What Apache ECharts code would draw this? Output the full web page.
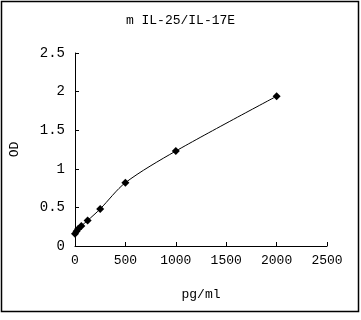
<!DOCTYPE html>
<html><head><meta charset="utf-8">
<script src="https://cdn.jsdelivr.net/npm/echarts@6/dist/echarts.min.js"></script>
<style>html,body{margin:0;padding:0;background:#fff}#c{width:361px;height:320px}</style>
</head><body><div id="c"></div>
<script>
var titleText = "m IL-25/IL-17E";
var xName = "pg/ml";
var yName = "OD";
var conc = [0, 15.6, 31.25, 62.5, 125, 250, 500, 1000, 2000];
var od = [0.16, 0.19, 0.22, 0.26, 0.33, 0.48, 0.82, 1.23, 1.94];
var xTicks = [0, 500, 1000, 1500, 2000, 2500];
var yTicks = [0, 0.5, 1, 1.5, 2, 2.5];

var font = "'Liberation Mono', 'DejaVu Sans Mono', monospace";
var chart = echarts.init(document.getElementById('c'));
var pts = conc.map(function(x, i){ return [x, od[i]]; });
chart.setOption({
  animation: false,
  backgroundColor: '#fff',
  title: { text: titleText, left: 'center', top: 9, textStyle: { fontFamily: font, fontSize: 13, fontWeight: 'normal', color: '#000' } },
  grid: { left: 72, right: 34, top: 53, bottom: 74 },
  graphic: [{ type: 'rect', shape: { x: 1.5, y: 1.5, width: 357, height: 310 }, style: { fill: 'none', stroke: '#000', lineWidth: 1.5 } }],
  xAxis: {
    type: 'value', min: xTicks[0], max: xTicks[xTicks.length-1], interval: 500,
    name: xName, nameLocation: 'middle', nameGap: 42,
    nameTextStyle: { fontFamily: font, fontSize: 13, color: '#000' },
    axisLine: { lineStyle: { color: '#000', width: 1 } },
    axisTick: { inside: true, length: 4, lineStyle: { color: '#000' } },
    axisLabel: { fontFamily: font, fontSize: 13, color: '#000', margin: 8, formatter: function(v){ return String(v); } },
    splitLine: { show: false }
  },
  yAxis: {
    type: 'value', min: yTicks[0], max: yTicks[yTicks.length-1], interval: 0.5,
    name: yName, nameLocation: 'middle', nameGap: 54, nameRotate: 90,
    nameTextStyle: { fontFamily: font, fontSize: 13, color: '#000' },
    axisLine: { show: true, lineStyle: { color: '#000', width: 1 } },
    axisTick: { show: true, inside: true, length: 4, lineStyle: { color: '#000' } },
    axisLabel: { fontFamily: font, fontSize: 14, color: '#000', margin: 10, formatter: function(v){ return String(v); } },
    splitLine: { show: false }
  },
  series: [{
    type: 'line', data: pts, smooth: 0.3,
    symbol: 'diamond', symbolSize: 8,
    itemStyle: { color: '#000' },
    lineStyle: { color: '#000', width: 1 }
  }]
});
</script></body></html>
